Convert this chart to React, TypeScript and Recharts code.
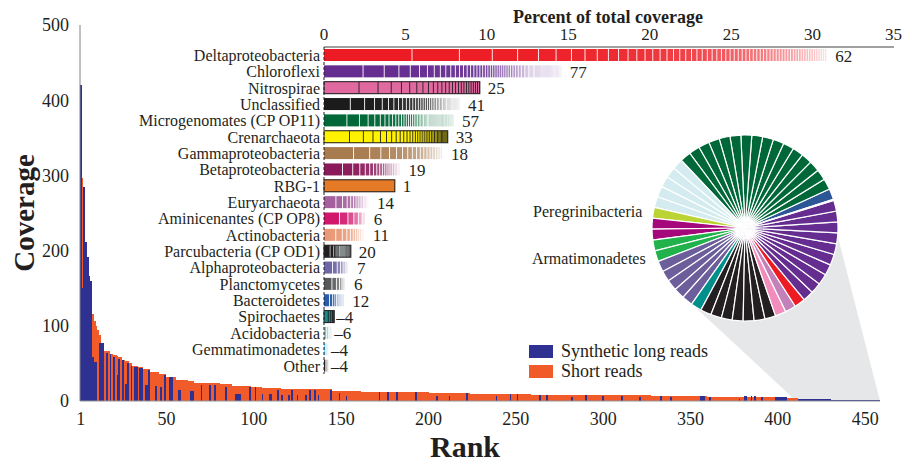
import { BarChart, Bar, XAxis, YAxis, Legend, ReferenceArea, Label, LabelList, PieChart, Pie, Cell } from 'recharts'

const RANK_COUNT = 458
const rankTicks = [1, 50, 100, 150, 200, 250, 300, 350, 400, 450]
const coverageTicks = [0, 100, 200, 300, 400, 500]

// [first rank, last rank, coverage]
const shortReadRuns: [number, number, number][] = [
  [1, 1, 0], [2, 2, 297], [3, 7, 0], [8, 8, 116], [9, 9, 106], [10, 10, 100], [11, 11, 94], [12, 12, 88],
  [13, 14, 70], [15, 17, 66], [18, 19, 63], [20, 21, 61], [22, 22, 60], [23, 24, 58], [25, 26, 55],
  [27, 28, 53], [29, 30, 50], [31, 33, 47], [34, 36, 45], [37, 40, 42], [41, 45, 39], [46, 49, 36],
  [50, 55, 32], [56, 62, 28], [63, 65, 26], [66, 80, 23.5], [81, 87, 22], [88, 98, 20], [99, 104, 19],
  [105, 115, 17.5], [116, 144, 15.5], [145, 161, 13.5], [162, 200, 11.8], [201, 223, 10.2], [224, 258, 9.3],
  [259, 300, 8], [301, 327, 7.5], [328, 359, 6.6], [360, 379, 5.7], [380, 400, 4.9], [401, 405, 4.5], [406, 411, 3.5],
]

const longReadRuns: [number, number, number][] = [
  [1, 1, 420], [2, 2, 150], [3, 3, 284], [4, 4, 212], [5, 5, 192], [6, 6, 166], [7, 7, 159], [8, 8, 59],
  [9, 10, 52], [12, 14, 77], [16, 16, 64], [18, 18, 62], [20, 20, 59], [22, 22, 35], [23, 23, 56], [25, 25, 54],
  [27, 27, 22], [28, 28, 51], [30, 30, 47], [32, 33, 45], [35, 36, 44], [38, 39, 21], [40, 40, 41], [44, 44, 20],
  [47, 47, 19], [49, 49, 34], [52, 53, 32], [57, 58, 15], [64, 65, 13], [70, 70, 21], [75, 75, 21], [78, 78, 21],
  [84, 84, 19], [90, 92, 9], [98, 98, 18], [101, 101, 18], [105, 105, 9], [109, 110, 9], [114, 114, 15],
  [116, 116, 8], [120, 120, 8], [122, 122, 15], [125, 125, 8], [130, 130, 8], [132, 132, 15], [135, 135, 15],
  [137, 137, 8], [144, 144, 14], [149, 149, 10], [153, 153, 6], [172, 172, 12], [177, 177, 12], [182, 182, 12],
  [193, 193, 12], [205, 205, 6], [212, 212, 6], [222, 222, 11], [239, 239, 6], [247, 247, 9], [251, 251, 9],
  [264, 264, 8], [268, 268, 8], [282, 282, 5], [290, 290, 8], [300, 300, 7], [311, 311, 6], [321, 321, 5],
  [333, 333, 6], [339, 339, 5], [356, 358, 6], [361, 361, 5], [378, 378, 3], [381, 382, 6], [385, 385, 6],
  [387, 387, 6], [391, 391, 5], [399, 405, 5], [412, 430, 3], [431, 458, 1.8],
]

const taxa = [
  'Deltaproteobacteria', 'Chloroflexi', 'Nitrospirae', 'Unclassified', 'Microgenomates (CP OP11)',
  'Crenarchaeota', 'Gammaproteobacteria', 'Betaproteobacteria', 'RBG-1', 'Euryarchaeota',
  'Aminicenantes (CP OP8)', 'Actinobacteria', 'Parcubacteria (CP OD1)', 'Alphaproteobacteria',
  'Planctomycetes', 'Bacteroidetes', 'Spirochaetes', 'Acidobacteria', 'Gemmatimonadetes', 'Other',
]
const percentCoverage = [30.9, 14.6, 9.57, 8.35, 7.98, 7.6, 7.3, 4.7, 4.35, 2.76, 2.56, 2.5, 1.65, 1.53, 1.35, 1.25, 0.63, 0.5, 0.3, 0.3]
const genomeCounts = [62, 77, 25, 41, 57, 33, 18, 19, 1, 14, 6, 11, 20, 7, 6, 12, 4, 6, 4, 4]
const percentTicks = [0, 5, 10, 15, 20, 25, 30, 35]

// low-coverage tail genomes shown in the pie, counter-clockwise from the blue slice
const pieTaxa = [
  'Bacteroidetes', 'Microgenomates (CP OP11)', 'Acidobacteria', 'Peregrinibacteria', 'Betaproteobacteria',
  'Armatimonadetes', 'Alphaproteobacteria', 'Spirochaetes', 'Unclassified', 'Nitrospirae', 'Euryarchaeota',
  'Deltaproteobacteria', 'Chloroflexi', 'Other',
]
const pieGenomes = [1, 16, 5, 1, 2, 2, 5, 1, 7, 1, 1, 1, 10, 0.1]
const pieCaptions = ['Peregrinibacteria', 'Armatimonadetes']

const ROW_STYLE: Record<string, { fill: string; sep: string; outline?: boolean }> = {
  'Deltaproteobacteria': { fill: '#ed1c24', sep: '#fff' },
  'Chloroflexi': { fill: '#662d91', sep: '#fff' },
  'Nitrospirae': { fill: '#e06aa0', sep: '#231f20', outline: true },
  'Unclassified': { fill: '#1b1b1b', sep: '#fff' },
  'Microgenomates (CP OP11)': { fill: '#006838', sep: '#fff' },
  'Crenarchaeota': { fill: '#fff200', sep: '#231f20', outline: true },
  'Gammaproteobacteria': { fill: '#a97c50', sep: '#fff' },
  'Betaproteobacteria': { fill: '#8b1a5a', sep: '#fff' },
  'RBG-1': { fill: '#e57b27', sep: '#231f20', outline: true },
  'Euryarchaeota': { fill: '#a5619e', sep: '#fff' },
  'Aminicenantes (CP OP8)': { fill: '#d0176c', sep: '#fff' },
  'Actinobacteria': { fill: '#e99a78', sep: '#fff' },
  'Parcubacteria (CP OD1)': { fill: '#231f20', sep: '#b9c4c4', outline: true },
  'Alphaproteobacteria': { fill: '#6f66a6', sep: '#fff' },
  'Planctomycetes': { fill: '#58595b', sep: '#fff' },
  'Bacteroidetes': { fill: '#2b5ca9', sep: '#fff' },
  'Spirochaetes': { fill: '#1b8c8c', sep: '#231f20', outline: true },
  'Acidobacteria': { fill: '#93bfbf', sep: '#fff' },
  'Gemmatimonadetes': { fill: '#6dcff6', sep: '#fff' },
  'Other': { fill: '#231f20', sep: '#fff' },
}

const PIE_COLORS: Record<string, string> = {
  'Bacteroidetes': '#2b5797',
  'Microgenomates (CP OP11)': '#006838',
  'Acidobacteria': '#d4ecef',
  'Peregrinibacteria': '#bcd433',
  'Betaproteobacteria': '#a4087b',
  'Armatimonadetes': '#22b24c',
  'Alphaproteobacteria': '#6b5e9b',
  'Spirochaetes': '#00908c',
  'Unclassified': '#231f20',
  'Nitrospirae': '#f28cbc',
  'Euryarchaeota': '#c282b9',
  'Deltaproteobacteria': '#ed1c24',
  'Chloroflexi': '#662d91',
  'Other': '#231f20',
}

const TEXT = '#231f20'
const BLUE = '#2e3192'
const ORANGE = '#f15a29'
const FONT = '"Liberation Serif", "Times New Roman", serif'

// pie placement on the page, used to draw the zoom wedge
const PIE_CX = 740
const PIE_CY = 223
const PIE_R = 93

const runValue = (runs: [number, number, number][], r: number) => {
  const hit = runs.find(([a, b]) => r >= a && r <= b)
  return hit ? hit[2] : 0
}

const rankData = Array.from({ length: RANK_COUNT }, (_, i) => ({
  rank: i + 1,
  short: runValue(shortReadRuns, i + 1),
  long: runValue(longReadRuns, i + 1),
}))

const taxonRows = taxa.map((taxon, i) => ({
  taxon,
  percent: percentCoverage[i],
  genomes: genomeCounts[i],
}))

const pieSlices = pieTaxa.flatMap((taxon, gi) => {
  const n = Math.max(1, Math.round(pieGenomes[gi]))
  return Array.from({ length: n }, (_, k) => ({
    taxon,
    value: pieGenomes[gi] < 1 ? pieGenomes[gi] : 1,
    caption: pieCaptions.includes(taxon) && k === n - 1 ? taxon : '',
  }))
})

const BAR_W = 800 / RANK_COUNT - 0.002

function GenomeBar(props: any) {
  const { x, y, width, height, payload } = props
  if (!width || width <= 0) return null
  const st = ROW_STYLE[payload.taxon]
  const n = payload.genomes
  const weights = Array.from({ length: n }, (_, i) => 1 / Math.pow(i + 1, 0.9))
  const total = weights.reduce((a, b) => a + b, 0)
  const gap = n > 1 ? 0.9 : 0
  let cursor = x
  const parts = weights.map((w, i) => {
    const segW = (w / total) * width
    const t = n > 1 ? i / (n - 1) : 0
    const alpha = st.outline ? 1 : Math.max(0.15, 1 - 0.85 * Math.pow(t, 1.4))
    const el = (
      <rect key={i} x={cursor} y={y} width={Math.max(segW - gap, 0.35)} height={height} fill={st.fill} fillOpacity={alpha} />
    )
    cursor += segW
    return el
  })
  return (
    <g>
      {st.outline && <rect x={x} y={y} width={width} height={height} fill={st.sep} />}
      {parts}
      {st.outline && <rect x={x} y={y} width={width} height={height} fill="none" stroke="#231f20" strokeWidth={1} />}
    </g>
  )
}

function CountLabel(props: any) {
  const { x, y, width, height, index } = props
  const small = percentCoverage[index] < 1
  const text = small ? `–${genomeCounts[index]}` : String(genomeCounts[index])
  return (
    <text x={x + width + (small ? 2 : 8)} y={y + height / 2 + 1} dominantBaseline="central" fontSize={17} fill={TEXT} fontFamily={FONT}>
      {text}
    </text>
  )
}

function ZoomWedge(props: any) {
  const { x, y, width, height } = props
  const base = y + height
  const pt = (deg: number) => {
    const a = (deg * Math.PI) / 180
    return `${PIE_CX + PIE_R * Math.cos(a)},${PIE_CY - PIE_R * Math.sin(a)}`
  }
  const points = `${x},${base} ${pt(235)} ${PIE_CX},${PIE_CY} ${pt(3.7)} ${x + width},${base}`
  return <polygon points={points} fill="#e6e7e8" />
}

function renderLegend(props: any) {
  const items = [...(props.payload ?? [])].reverse()
  return (
    <div>
      {items.map((item: any) => (
        <div key={item.value} style={{ display: 'flex', alignItems: 'center', height: 20, fontSize: 18, color: TEXT, fontFamily: FONT, whiteSpace: 'nowrap' }}>
          <span style={{ display: 'inline-block', width: 24, height: 13, background: item.color, marginRight: 8 }} />
          {item.value}
        </div>
      ))}
    </div>
  )
}

function renderPieLabel(props: any) {
  const caption = props.caption ?? props.payload?.caption
  if (!caption) return null
  const a = (-props.midAngle * Math.PI) / 180
  const r = props.outerRadius + 7
  return (
    <text x={props.cx + r * Math.cos(a) - 4} y={props.cy + r * Math.sin(a)} textAnchor="end" dominantBaseline="central" fontSize={16} fill={TEXT} fontFamily={FONT}>
      {caption}
    </text>
  )
}

export default function App() {
  return (
    <div style={{ position: 'absolute', left: 0, top: 0, width: 902, height: 461, fontFamily: FONT, background: '#fff' }}>
      <BarChart width={902} height={461} data={rankData} margin={{ top: 25, right: 22, bottom: 30, left: 0 }}
        barCategoryGap={0} barGap={-BAR_W}>
        <ReferenceArea x1={411} x2={458} y1={0} y2={1} shape={ZoomWedge} zIndex={50} />
        <XAxis dataKey="rank" ticks={rankTicks} interval={0} height={30} tickLine={false}
          tickSize={6} tickMargin={5} axisLine={{ stroke: '#939598' }} tick={{ fontSize: 18, fill: TEXT }}>
          <Label content={() => (
            <text x={465} y={446} textAnchor="middle" dominantBaseline="central" fontSize={30} fontWeight="bold" fill={TEXT} fontFamily={FONT}>Rank</text>
          )} />
        </XAxis>
        <YAxis domain={[0, 500]} ticks={coverageTicks} width={80} tickLine={false} tickSize={6} tickMargin={5}
          axisLine={{ stroke: '#808285' }} tick={{ fontSize: 18, fill: TEXT }}>
          <Label content={() => (
            <text x={24} y={213} transform="rotate(-90 24 213)" textAnchor="middle" dominantBaseline="central" fontSize={29} fontWeight="bold" fill={TEXT} fontFamily={FONT}>Coverage</text>
          )} />
        </YAxis>
        <Legend layout="vertical" align="center" verticalAlign="middle" content={renderLegend}
          wrapperStyle={{ left: 529, top: 341, width: 'auto' }} />
        <Bar dataKey="short" name="Short reads" fill={ORANGE} barSize={BAR_W} isAnimationActive={false} shapeRendering="crispEdges" />
        <Bar dataKey="long" name="Synthetic long reads" fill={BLUE} barSize={BAR_W} isAnimationActive={false} shapeRendering="crispEdges" />
      </BarChart>

      <div style={{ position: 'absolute', left: 0, top: 0 }}>
        <BarChart width={902} height={461} data={taxonRows} layout="vertical" margin={{ top: 0, right: 8, bottom: 87, left: 0 }}>
          <XAxis type="number" orientation="top" domain={[0, 35]} ticks={percentTicks} height={47} tickLine={false}
            tickSize={5} tickMargin={2} axisLine={{ stroke: '#414042' }} tick={{ fontSize: 17, fill: TEXT }}>
            <Label content={() => (
              <text x={608} y={17} textAnchor="middle" dominantBaseline="central" fontSize={18} fontWeight="bold" fill={TEXT} fontFamily={FONT}>Percent of total coverage</text>
            )} />
          </XAxis>
          <YAxis type="category" dataKey="taxon" width={324} tickLine={false} tickSize={2} tickMargin={2} interval={0}
            axisLine={{ stroke: TEXT, strokeDasharray: '3 2' }} tick={{ fontSize: 16, fill: TEXT }} />
          <Bar dataKey="percent" barSize={12} shape={GenomeBar} isAnimationActive={false}>
            <LabelList dataKey="genomes" content={CountLabel} />
          </Bar>
        </BarChart>
      </div>

      <div style={{ position: 'absolute', left: 500, top: 100 }}>
        <PieChart width={340} height={250}>
          <Pie data={pieSlices} dataKey="value" nameKey="taxon" cx={240} cy={123} outerRadius={PIE_R}
            startAngle={18} endAngle={378} stroke="#fff" strokeWidth={1.2} isAnimationActive={false}
            label={renderPieLabel} labelLine={false}>
            {pieSlices.map((s, i) => (
              <Cell key={i} fill={PIE_COLORS[s.taxon]} />
            ))}
          </Pie>
        </PieChart>
      </div>
    </div>
  )
}
